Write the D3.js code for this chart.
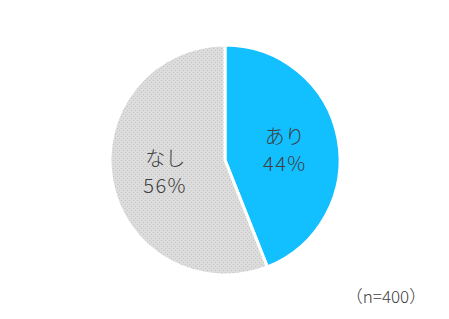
<!DOCTYPE html>
<meta charset="utf-8">
<head>
<style>
body { margin: 0; background: #fff; }
.lbl { font-family: "Noto Sans CJK JP", "Noto Sans", sans-serif; fill: #404040; font-weight: 300; }
</style>
</head>
<body>
<script src="https://d3js.org/d3.v7.min.js"></script>
<script>
// data
var labels = ["あり", "なし"];
var values = [44, 56];
var colors = ["#12BFFF", "url(#dots)"];
var note = "（n=400）";

var width = 449, height = 319;
var cx = 225, cy = 160, radius = 115;

var svg = d3.select("body").append("svg")
    .attr("width", width)
    .attr("height", height);

// dotted fill for the gray slice
var pat = svg.append("defs").append("pattern")
    .attr("id", "dots")
    .attr("patternUnits", "userSpaceOnUse")
    .attr("width", 4)
    .attr("height", 4);
pat.append("rect").attr("width", 4).attr("height", 4).attr("fill", "#DCDCDC");
pat.append("rect").attr("x", 0).attr("y", 0).attr("width", 1).attr("height", 1).attr("fill", "#C4C4C4");
pat.append("rect").attr("x", 2).attr("y", 2).attr("width", 1).attr("height", 1).attr("fill", "#C4C4C4");

var pie = d3.pie().sort(null).value(function(d) { return d; });
var arcs = pie(values);

var arc = d3.arc().innerRadius(0).outerRadius(radius);
var labelArc = d3.arc().innerRadius(radius * 0.53).outerRadius(radius * 0.53);

var g = svg.append("g")
    .attr("transform", "translate(" + cx + "," + cy + ")");

g.selectAll("path.slice")
    .data(arcs)
  .enter().append("path")
    .attr("class", "slice")
    .attr("d", arc)
    .attr("fill", function(d, i) { return colors[i]; })
    .attr("stroke", "#fff")
    .attr("stroke-width", 3)
    .attr("stroke-linejoin", "round");

// category name and percentage, as two texts per slice
var lg = g.selectAll("g.lab")
    .data(arcs)
  .enter().append("g")
    .attr("class", "lab")
    .attr("transform", function(d) { return "translate(" + labelArc.centroid(d) + ")"; });

lg.append("text")
    .attr("class", "lbl")
    .attr("text-anchor", "middle")
    .attr("font-size", 20)
    .attr("y", -5)
    .text(function(d, i) { return labels[i]; });

lg.append("text")
    .attr("class", "lbl")
    .attr("text-anchor", "middle")
    .attr("font-size", 20)
    .attr("y", 22)
    .attr("letter-spacing", 1.5)
    .text(function(d) { return d.value + "%"; });

svg.append("text")
    .attr("class", "lbl")
    .attr("x", 386)
    .attr("y", 303)
    .attr("text-anchor", "middle")
    .attr("font-size", 17)
    .text(note);
</script>
</body>
